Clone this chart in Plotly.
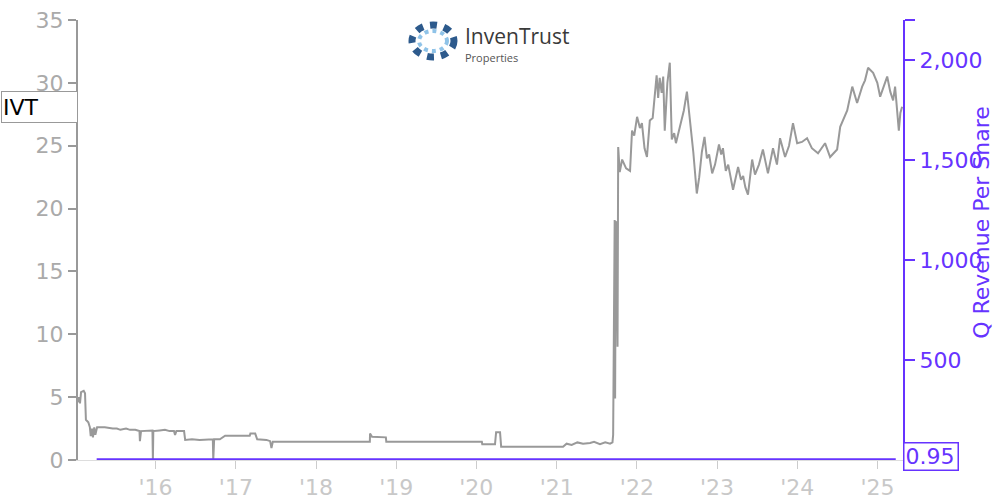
import plotly.graph_objects as go

# ---- data ----
ivt_dates = [
    "2015-01-13", "2015-01-18", "2015-01-22", "2015-01-27", "2015-02-08", "2015-02-14", "2015-02-18",
    "2015-03-01", "2015-03-08", "2015-03-12", "2015-03-18", "2015-03-22", "2015-03-28", "2015-04-02",
    "2015-04-10", "2015-05-15", "2015-06-20", "2015-07-09", "2015-07-25", "2015-08-20", "2015-09-07",
    "2015-10-01", "2015-10-20", "2015-10-22", "2015-10-27", "2015-11-20", "2015-12-18", "2015-12-20",
    "2015-12-22", "2016-01-20", "2016-02-13", "2016-03-05", "2016-03-25", "2016-03-30", "2016-04-05",
    "2016-05-10", "2016-05-15", "2016-06-15", "2016-07-20", "2016-09-18", "2016-09-20", "2016-09-24",
    "2016-10-20", "2016-11-13", "2017-03-05", "2017-03-08", "2017-03-30", "2017-04-08", "2017-05-20",
    "2017-06-06", "2017-06-12", "2017-06-18", "2018-09-03", "2018-09-04", "2018-09-13", "2018-11-15",
    "2018-11-17", "2020-01-26", "2020-01-28", "2020-03-26", "2020-03-31", "2020-04-18", "2020-04-23",
    "2021-01-30", "2021-02-15", "2021-03-10", "2021-04-05", "2021-05-01", "2021-06-02", "2021-06-20",
    "2021-07-17", "2021-08-10", "2021-09-01", "2021-09-12", "2021-09-15", "2021-09-22", "2021-09-24",
    "2021-09-27", "2021-09-30", "2021-10-05", "2021-10-08", "2021-10-15", "2021-10-26", "2021-11-13",
    "2021-12-01", "2021-12-10", "2021-12-20", "2022-01-02", "2022-01-15", "2022-01-24", "2022-02-05",
    "2022-02-16", "2022-03-01", "2022-03-14", "2022-04-01", "2022-04-08", "2022-04-15", "2022-04-24",
    "2022-05-01", "2022-05-08", "2022-05-20", "2022-05-31", "2022-06-05", "2022-06-09", "2022-06-20",
    "2022-06-28", "2022-07-16", "2022-08-03", "2022-08-17", "2022-09-01", "2022-09-15", "2022-10-01",
    "2022-10-12", "2022-10-24", "2022-11-05", "2022-11-16", "2022-11-26", "2022-12-10", "2022-12-23",
    "2023-01-10", "2023-01-20", "2023-01-28", "2023-02-10", "2023-02-21", "2023-03-15", "2023-04-07",
    "2023-04-20", "2023-04-30", "2023-05-10", "2023-05-22", "2023-06-10", "2023-06-23", "2023-07-11",
    "2023-07-29", "2023-08-21", "2023-09-13", "2023-10-01", "2023-10-15", "2023-11-07", "2023-11-25",
    "2023-12-13", "2024-01-01", "2024-01-23", "2024-02-15", "2024-03-08", "2024-04-05", "2024-05-07",
    "2024-05-30", "2024-07-01", "2024-07-15", "2024-08-02", "2024-08-16", "2024-09-08", "2024-09-20",
    "2024-09-30", "2024-10-23", "2024-11-05", "2024-11-19", "2024-12-12", "2024-12-31", "2025-01-13",
    "2025-01-31", "2025-02-14", "2025-02-28", "2025-03-13", "2025-03-22", "2025-04-01", "2025-04-08",
    "2025-04-15", "2025-04-23",
]
ivt_price = [
    4.6, 5.0, 4.5, 5.4, 5.5, 5.3, 3.2,
    3.0, 2.6, 1.9, 2.5, 1.8, 2.6, 2.0,
    2.6, 2.6, 2.5, 2.5, 2.4, 2.5, 2.4,
    2.4, 2.3, 1.5, 2.3, 2.3, 2.35, 0.0,
    2.3, 2.35, 2.4, 2.3, 2.3, 2.0, 2.3,
    2.3, 1.6, 1.65, 1.6, 1.65, 0.0, 1.65,
    1.65, 1.93, 1.93, 2.1, 2.1, 1.65, 1.6,
    1.5, 0.95, 1.45, 1.45, 2.1, 1.85, 1.8,
    1.45, 1.45, 1.25, 1.25, 2.2, 2.2, 1.06,
    1.06, 1.3, 1.2, 1.4, 1.3, 1.35, 1.45,
    1.25, 1.4, 1.3, 1.4, 2.0, 19.1, 4.9,
    19.0, 18.6, 9.0, 24.9, 22.9, 23.9, 23.2,
    23.0, 26.2, 25.8, 27.3, 26.4, 26.8, 24.8,
    24.1, 27.0, 27.2, 30.6, 28.8, 30.4, 29.2,
    30.5, 26.2, 30.0, 31.6, 27.5, 25.5, 26.0,
    25.2, 26.5, 27.8, 29.3, 26.9, 24.5, 21.2,
    22.5, 24.5, 25.7, 24.0, 24.3, 22.8, 23.5,
    25.1, 24.3, 24.8, 23.0, 23.5, 21.5, 23.3,
    22.3, 22.6, 21.7, 21.1, 23.9, 22.7, 23.5,
    24.7, 22.8, 24.8, 23.5, 25.6, 24.1, 25.0,
    26.8, 25.2, 25.3, 25.6, 24.8, 24.4, 25.2,
    24.1, 24.7, 26.5, 27.2, 27.8, 29.7, 28.9,
    28.4, 29.7, 30.2, 31.2, 30.8, 30.0, 28.9,
    29.8, 30.5, 29.3, 28.6, 29.7, 27.5, 26.2,
    27.6, 28.1,
]

rev_dates = [
    "2015-04-08", "2015-06-30", "2015-09-30", "2015-12-31", "2016-03-31", "2016-06-30", "2016-09-30",
    "2016-12-31", "2017-03-31", "2017-06-30", "2017-09-30", "2017-12-31", "2018-03-31", "2018-06-30",
    "2018-09-30", "2018-12-31", "2019-03-31", "2019-06-30", "2019-09-30", "2019-12-31", "2020-03-31",
    "2020-06-30", "2020-09-30", "2020-12-31", "2021-03-31", "2021-06-30", "2021-09-30", "2021-12-31",
    "2022-03-31", "2022-06-30", "2022-09-30", "2022-12-31", "2023-03-31", "2023-06-30", "2023-09-30",
    "2023-12-31", "2024-03-31", "2024-06-30", "2024-09-30", "2024-12-31", "2025-03-25",
]
rev_per_share = [
    0.95, 0.95, 0.95, 0.95, 0.95, 0.95, 0.95,
    0.95, 0.95, 0.95, 0.95, 0.95, 0.95, 0.95,
    0.95, 0.95, 0.95, 0.95, 0.95, 0.95, 0.95,
    0.95, 0.95, 0.95, 0.95, 0.95, 0.95, 0.95,
    0.95, 0.95, 0.95, 0.95, 0.95, 0.95, 0.95,
    0.95, 0.95, 0.95, 0.95, 0.95, 0.95,
]

left_ticks = [0, 5, 10, 15, 20, 25, 30, 35]
right_ticks = [500, 1000, 1500, 2000, 2200]
right_tick_text = ["500", "1,000", "1,500", "2,000", ""]

PURPLE = "#6633ff"
GRAY = "#999999"
FONT = "DejaVu Sans"
FS = 22

fig = go.Figure()
fig.add_trace(go.Scatter(x=ivt_dates, y=ivt_price, mode="lines",
                         line=dict(color=GRAY, width=2), name="IVT", showlegend=False))
fig.add_trace(go.Scatter(x=rev_dates, y=rev_per_share, mode="lines", yaxis="y2",
                         line=dict(color=PURPLE, width=3), name="Q Revenue Per Share",
                         showlegend=False))

fig.update_layout(
    width=1000, height=500,
    margin=dict(l=78, r=97, t=20, b=40, autoexpand=False),
    paper_bgcolor="white", plot_bgcolor="white",
    font=dict(family=FONT, size=FS),
    xaxis=dict(
        type="date", range=["2015-01-13", "2025-04-27"],
        tick0="2016-01-01", dtick="M12", tickformat="'%y",
        showgrid=False, zeroline=False,
        showline=True, linecolor="#dddddd", linewidth=1,
        ticks="outside", ticklen=8, tickcolor="#cccccc", tickwidth=1,
        tickfont=dict(color="#c8c8c8", size=FS, family=FONT),
    ),
    yaxis=dict(
        range=[0, 35], tickvals=left_ticks,
        showgrid=False, zeroline=False,
        showline=True, linecolor=GRAY, linewidth=2,
        ticks="outside", ticklen=8, tickcolor=GRAY, tickwidth=2,
        tickfont=dict(color="#aaaaaa", size=FS, family=FONT),
    ),
    yaxis2=dict(
        overlaying="y", side="right", range=[0, 2200],
        tickvals=right_ticks, ticktext=right_tick_text,
        showgrid=False, zeroline=False,
        showline=True, linecolor=PURPLE, linewidth=2,
        ticks="outside", ticklen=10, tickcolor=PURPLE, tickwidth=2,
        tickfont=dict(color=PURPLE, size=FS, family=FONT),
    ),
)

annotations = [
    dict(text="IVT", xref="paper", yref="y", x=0, y=ivt_price[-1], xanchor="right",
         yanchor="middle", showarrow=False, align="left", width=73, height=28,
         borderpad=1, bordercolor=GRAY, borderwidth=1, bgcolor="white",
         font=dict(color="black", size=FS, family=FONT)),
    dict(text="0.95", xref="paper", yref="y2", x=1, y=rev_per_share[-1], xanchor="left",
         yanchor="middle", yshift=3, showarrow=False, align="left", width=51, height=24,
         borderpad=1, bordercolor=PURPLE, borderwidth=1.5, bgcolor="white",
         font=dict(color=PURPLE, size=FS, family=FONT)),
    dict(text="Q Revenue Per Share", xref="paper", yref="paper", x=(982 - 78) / 825, y=0.539,
         xanchor="center", yanchor="middle", textangle=-90, showarrow=False,
         font=dict(color=PURPLE, size=FS, family=FONT)),
    dict(text="InvenTrust", xref="paper", yref="paper", x=(463 - 78) / 825, y=(460 - 36) / 440,
         xanchor="left", yanchor="middle", showarrow=False,
         font=dict(color="#3a3a3a", size=21, family="Open Sans")),
    dict(text="Properties", xref="paper", yref="paper", x=(463 - 78) / 825, y=(460 - 57) / 440,
         xanchor="left", yanchor="middle", showarrow=False,
         font=dict(color="#555555", size=11, family="Open Sans")),
]
fig.update_layout(annotations=annotations)

# logo emblem (decorative rings)
cx, cy = (433 - 78) / 825, (460 - 41) / 440
fig.add_shape(type="circle", xref="paper", yref="paper", xsizemode="pixel", ysizemode="pixel",
              xanchor=cx, yanchor=cy, x0=-21, x1=21, y0=-16, y1=16,
              line=dict(color="#2d5a8c", width=7, dash="dot"))
fig.add_shape(type="circle", xref="paper", yref="paper", xsizemode="pixel", ysizemode="pixel",
              xanchor=cx, yanchor=cy, x0=-14, x1=14, y0=-10, y1=10,
              line=dict(color="#8fc3e8", width=4, dash="dot"))

fig.write_html("out.html", config={"displayModeBar": False},
               post_script="document.body.style.margin='0';")
